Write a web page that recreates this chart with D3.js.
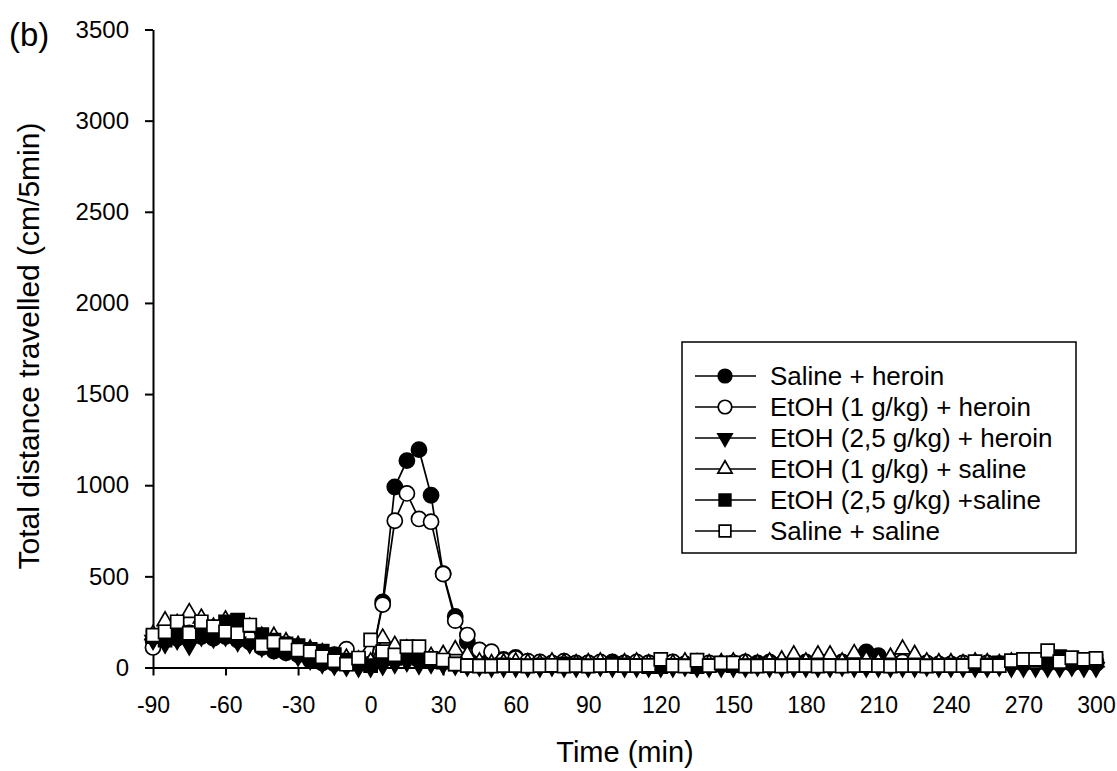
<!DOCTYPE html>
<html>
<head>
<meta charset="utf-8">
<script src="https://cdn.jsdelivr.net/npm/d3@7"></script>
<style>
  body { margin: 0; background: #fff; }
  svg { display: block; }
  text { font-family: "Liberation Sans", Arial, sans-serif; fill: #000; }
</style>
</head>
<body>
<div id="chart"></div>
<script>
// time points (min)
const timeMin = [-90, -85, -80, -75, -70, -65, -60, -55, -50, -45, -40, -35, -30, -25, -20, -15, -10, -5,
  0, 5, 10, 15, 20, 25, 30, 35, 40, 45, 50, 55,
  60, 65, 70, 75, 80, 85, 90, 95, 100, 105, 110, 115,
  120, 125, 130, 135, 140, 145, 150, 155, 160, 165, 170, 175,
  180, 185, 190, 195, 200, 205, 210, 215, 220, 225, 230, 235,
  240, 245, 250, 255, 260, 265, 270, 275, 280, 285, 290, 295, 300];

// cm/5min
const salineHeroin = [150, 170, 160, 180, 170, 160, 170, 150, 140, 110, 90, 80, 70, 40, 25, 20, 20, 30,
  20, 360, 990, 1135, 1195, 945, 515, 280, 140, 60, 50, 45,
  55, 30, 25, 20, 30, 20, 25, 20, 30, 25, 20, 25,
  30, 25, 20, 25, 20, 20, 25, 20, 25, 30, 20, 25,
  30, 20, 25, 30, 40, 85, 65, 30, 25, 20, 20, 15,
  15, 20, 20, 15, 20, 25, 20, 25, 30, 20, 20, 25, 30];

const etoh1Heroin = [110, 160, 180, 190, 200, 180, 190, 170, 160, 140, 150, 130, 110, 90, 80, 70, 100, 40,
  20, 345, 805, 955, 815, 800, 513, 257, 178, 96, 87, 40,
  50, 35, 30, 25, 35, 25, 25, 30, 20, 25, 30, 25,
  25, 30, 20, 25, 25, 20, 25, 30, 20, 25, 20, 30,
  25, 20, 30, 25, 25, 30, 20, 25, 30, 20, 25, 20,
  20, 25, 20, 25, 20, 25, 30, 25, 20, 25, 30, 25, 20];

const etoh25Heroin = [150, 130, 150, 120, 170, 160, 170, 140, 130, 110, 100, 90, 60, 40, 20, 10, 5, 0,
  0, 10, 20, 30, 15, 20, 15, 10, 5, 5, 0, 0,
  0, 0, 0, 5, 0, 0, 0, 5, 0, 0, 0, 0,
  0, 0, 5, 0, 0, 0, 0, 0, 5, 0, 0, 0,
  0, 0, 0, 5, 0, 0, 0, 0, 0, 0, 5, 0,
  0, 0, 0, 0, 5, 0, 0, 0, 0, 0, 5, 0, 0];

const etoh1Saline = [180, 255, 240, 300, 270, 220, 260, 240, 220, 170, 170, 140, 120, 100, 80, 60, 50, 40,
  30, 160, 120, 100, 80, 60, 70, 96, 68, 30, 20, 25,
  30, 25, 20, 30, 25, 20, 25, 30, 20, 25, 30, 20,
  25, 20, 30, 25, 20, 25, 30, 25, 20, 30, 40, 68,
  30, 68, 68, 30, 75, 40, 30, 55, 100, 70, 30, 25,
  25, 20, 30, 25, 20, 30, 25, 20, 30, 25, 20, 25, 30];

const etoh25Saline = [170, 150, 200, 190, 200, 180, 250, 260, 230, 180, 150, 130, 120, 100, 90, 70, 40, 20,
  10, 60, 50, 60, 50, 40, 30, 20, 10, 10, 10, 15,
  10, 10, 15, 10, 20, 15, 10, 10, 20, 15, 10, 5,
  5, 10, 10, 5, 10, 15, 10, 10, 15, 10, 10, 15,
  10, 15, 10, 10, 15, 10, 10, 15, 10, 15, 10, 10,
  15, 10, 10, 15, 25, 30, 35, 40, 40, 60, 35, 30, 35];

const salineSaline = [178, 196, 251, 188, 251, 224, 196, 188, 233, 123, 141, 123, 96, 87, 59, 37, 18, 52,
  151, 87, 69, 114, 114, 50, 41, 19, 10, 8, 8, 10,
  10, 8, 10, 12, 8, 10, 8, 10, 12, 10, 10, 12,
  45, 10, 8, 40, 10, 25, 25, 8, 8, 10, 8, 10,
  10, 8, 10, 8, 10, 12, 10, 8, 10, 10, 8, 10,
  10, 10, 32, 10, 10, 38, 45, 45, 92, 32, 54, 45, 50];

const seriesNames = ["Saline + heroin", "EtOH (1 g/kg) + heroin", "EtOH (2,5 g/kg) + heroin",
  "EtOH (1 g/kg) + saline", "EtOH (2,5 g/kg) +saline", "Saline + saline"];
const seriesValues = [salineHeroin, etoh1Heroin, etoh25Heroin, etoh1Saline, etoh25Saline, salineSaline];

const xTicks = [-90, -60, -30, 0, 30, 60, 90, 120, 150, 180, 210, 240, 270, 300];
const yTicks = [0, 500, 1000, 1500, 2000, 2500, 3000, 3500];

const width = 1117;
const height = 771;

// marker look for each series
const markers = [
  { type: d3.symbolCircle, size: 180, fill: "#000", rotate: 0 },
  { type: d3.symbolCircle, size: 180, fill: "#fff", rotate: 0 },
  { type: d3.symbolTriangle, size: 110, fill: "#000", rotate: 180 },
  { type: d3.symbolTriangle, size: 110, fill: "#fff", rotate: 0 },
  { type: d3.symbolSquare, size: 170, fill: "#000", rotate: 0 },
  { type: d3.symbolSquare, size: 170, fill: "#fff", rotate: 0 }
];

let svg = d3.select("#chart").append("svg")
  .attr("width", width)
  .attr("height", height);

let x = d3.scaleLinear([-90, 300], [153, 1096]);
let y = d3.scaleLinear([0, 3500], [667.5, 29.5]);

// axes, plain number labels with ascii minus
let yAxis = svg.append("g")
  .attr("transform", `translate(${x(-90)},0)`)
  .call(d3.axisLeft(y).tickValues(yTicks).tickFormat(d => String(d))
    .tickSize(8).tickSizeOuter(0).tickPadding(16));

let xAxis = svg.append("g")
  .attr("transform", `translate(0,${y(0)})`)
  .call(d3.axisBottom(x).tickValues(xTicks).tickFormat(d => String(d))
    .tickSize(8).tickSizeOuter(0).tickPadding(21));

[xAxis, yAxis].forEach(a => {
  a.select(".domain").attr("stroke", "#000").attr("stroke-width", 2);
  a.selectAll(".tick line").attr("stroke", "#000").attr("stroke-width", 2);
  a.selectAll(".tick text")
    .attr("font-family", "Liberation Sans, Arial, sans-serif")
    .attr("fill", "#000");
});
yAxis.selectAll(".tick text").attr("font-size", 24);
xAxis.selectAll(".tick text").attr("font-size", 23);

// series lines + markers
let line = d3.line()
  .x((d, i) => x(timeMin[i]))
  .y(d => y(d));

seriesValues.forEach((vals, s) => {
  let g = svg.append("g");
  g.append("path")
    .attr("d", line(vals))
    .attr("fill", "none")
    .attr("stroke", "#000")
    .attr("stroke-width", 1.7);

  let m = markers[s];
  g.selectAll("path.pt")
    .data(vals)
    .join("path")
    .attr("class", "pt")
    .attr("transform", (d, i) => `translate(${x(timeMin[i])},${y(d)}) rotate(${m.rotate})`)
    .attr("d", d3.symbol(m.type, m.size))
    .attr("fill", m.fill)
    .attr("stroke", "#000")
    .attr("stroke-width", 1.7);
});

// legend
let legend = svg.append("g").attr("transform", "translate(682,342)");
legend.append("rect")
  .attr("width", 394)
  .attr("height", 211)
  .attr("fill", "#fff")
  .attr("stroke", "#000")
  .attr("stroke-width", 1.5);

let rows = legend.selectAll("g.row")
  .data(seriesNames)
  .join("g")
  .attr("class", "row")
  .attr("transform", (d, i) => `translate(0,${34 + i * 31})`);

rows.append("line")
  .attr("x1", 13).attr("x2", 74)
  .attr("stroke", "#000").attr("stroke-width", 1.7);

rows.append("path")
  .attr("transform", (d, i) => `translate(43,0) rotate(${markers[i].rotate})`)
  .attr("d", (d, i) => d3.symbol(markers[i].type, markers[i].size * 0.8)())
  .attr("fill", (d, i) => markers[i].fill)
  .attr("stroke", "#000")
  .attr("stroke-width", 1.7);

rows.append("text")
  .attr("x", 88)
  .attr("y", 9)
  .attr("font-size", 26)
  .text(d => d);

// titles
svg.append("text")
  .attr("x", 9).attr("y", 46)
  .attr("font-size", 33)
  .text("(b)");

svg.append("text")
  .attr("x", 625).attr("y", 762)
  .attr("text-anchor", "middle")
  .attr("font-size", 29)
  .text("Time (min)");

svg.append("text")
  .attr("transform", `translate(39,346) rotate(-90)`)
  .attr("text-anchor", "middle")
  .attr("font-size", 30)
  .text("Total distance travelled (cm/5min)");
</script>
</body>
</html>
